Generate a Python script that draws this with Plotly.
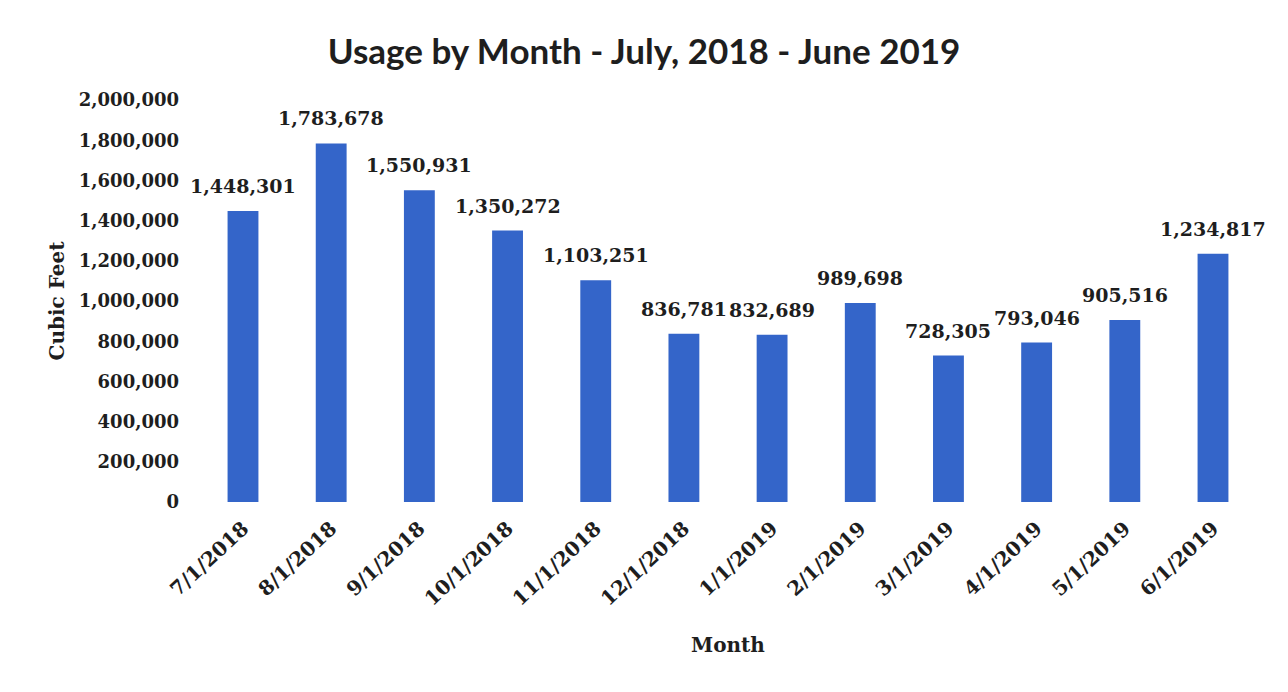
import plotly.graph_objects as go

months = ["7/1/2018", "8/1/2018", "9/1/2018", "10/1/2018", "11/1/2018", "12/1/2018",
          "1/1/2019", "2/1/2019", "3/1/2019", "4/1/2019", "5/1/2019", "6/1/2019"]
usage = [1448301, 1783678, 1550931, 1350272, 1103251, 836781,
         832689, 989698, 728305, 793046, 905516, 1234817]

serif = "DejaVu Serif, Liberation Serif, serif"
dark = "#1e1e1e"

fig = go.Figure(go.Bar(
    x=months, y=usage,
    marker=dict(color="#3465C9", line=dict(width=0)),
    cliponaxis=False,
))

# data labels placed at each bar's value through the axis scales
for m, v in zip(months, usage):
    fig.add_annotation(x=m, y=v, text=f"<b>{v:,}</b>", showarrow=False,
                       yanchor="bottom", yshift=12,
                       font=dict(family=serif, size=19, color=dark))

fig.update_layout(
    width=1288, height=692,
    paper_bgcolor="white", plot_bgcolor="white",
    margin=dict(l=188, r=20, t=100, b=190, autoexpand=False),
    bargap=0.65,
    title=dict(text="<b>Usage by Month - July, 2018 - June 2019</b>",
               font=dict(family="Lato, Open Sans, sans-serif", size=35, color=dark),
               x=0.5, xanchor="center", y=0.925, yanchor="middle"),
    showlegend=False,
)
fig.update_yaxes(
    range=[0, 2000000], dtick=200000, tickformat=",d",
    showgrid=False, zeroline=False, showline=False, automargin=False,
    tickfont=dict(family=serif, size=18, color=dark),
    tickprefix="<b>", ticksuffix="</b>",
    title=dict(text="<b>Cubic Feet</b>", font=dict(family=serif, size=20, color=dark), standoff=8),
    ticks="", ticklabelstandoff=8,
)
fig.update_xaxes(
    tickangle=-43, showgrid=False, showline=False, ticks="", automargin=False,
    tickfont=dict(family=serif, size=20, color=dark),
    tickprefix="<b>", ticksuffix="</b>",
    ticklabelstandoff=10,
    title=dict(text="<b>Month</b>", font=dict(family=serif, size=20, color=dark), standoff=28),
)

fig.write_html("out.html")
